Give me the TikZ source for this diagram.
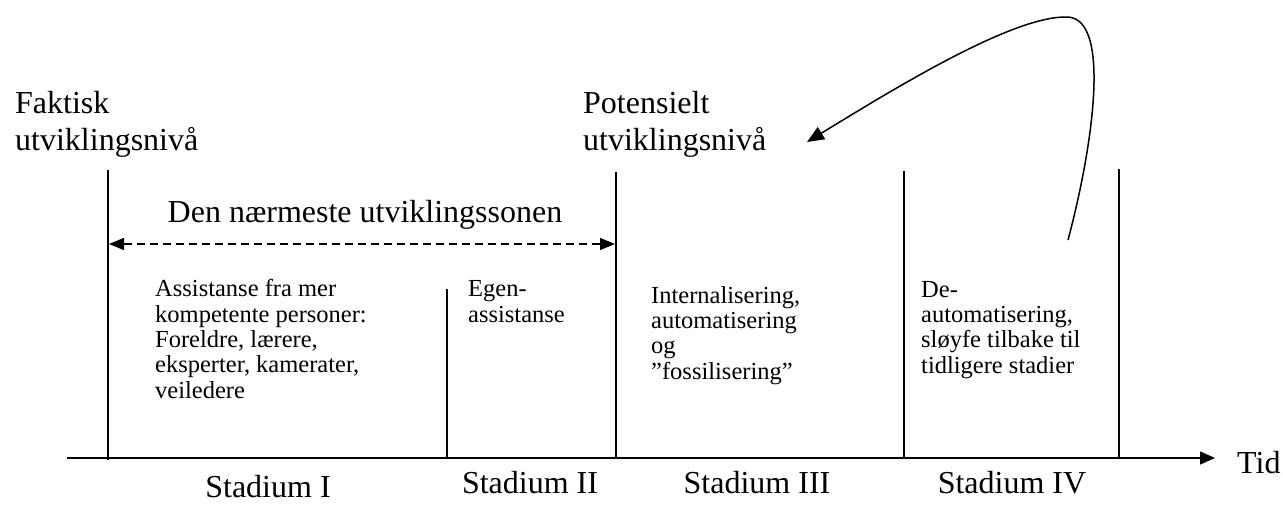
\documentclass[tikz,border=0pt]{standalone}
\usepackage{fontspec}
\setmainfont{Liberation Serif}
\usetikzlibrary{arrows.meta}

\begin{document}
\begin{tikzpicture}[x=1pt,y=-1pt,
  big/.style={font=\fontsize{32}{37}\selectfont, inner sep=0pt, align=left},
  small/.style={font=\fontsize{24.5}{25.3}\selectfont, inner sep=0pt, align=left},
  stage/.style={font=\fontsize{32}{37}\selectfont, inner sep=0pt, anchor=base},
  rule/.style={line width=1.5pt},
  tip/.style={-{Triangle[length=15pt,width=13pt]}}
]
\useasboundingbox (0,0) rectangle (1283,504);

% level labels (anchored at the baseline of their last line)
\node[big, anchor=base west] (faktisk) at (15,150) {Faktisk\\utviklingsnivå};
\node[big, anchor=base west] (potensielt) at (583,150) {Potensielt\\utviklingsnivå};

% zone of proximal development
\node[big, anchor=base] (sone) at (365,222) {Den nærmeste utviklingssonen};

% boundaries between the stages
\coordinate (v1t) at (108,170);  \coordinate (v1b) at (108,460);
\coordinate (v2t) at (447,289);  \coordinate (v2b) at (447,458);
\coordinate (v3t) at (616,172);  \coordinate (v3b) at (616,458);
\coordinate (v4t) at (904,171);  \coordinate (v4b) at (904,458);
\coordinate (v5t) at (1119,169); \coordinate (v5b) at (1119,458);
\foreach \v in {1,...,5} \draw[rule] (v\v t) -- (v\v b);

% time axis
\coordinate (axstart) at (67,458);
\coordinate (axend) at (1215,458);
\draw[rule, tip] (axstart) -- (axend);
\node[big, anchor=base west] (tid) at (1237,473) {Tid};

% span of the zone
\coordinate (zl) at (109,244);
\coordinate (zr) at (615,244);
\draw[line width=1.3pt, dash pattern=on 8pt off 5pt,
  {Triangle[length=15pt,width=12pt]}-{Triangle[length=15pt,width=12pt]}] (zl) -- (zr);

% stage descriptions (anchored at the baseline of their last line)
\node[small, anchor=base west] (s1) at (155,398) {Assistanse fra mer\\kompetente personer:\\Foreldre, lærere,\\eksperter, kamerater,\\veiledere};
\node[small, anchor=base west] (s2) at (468,322) {Egen-\\assistanse};
\node[small, anchor=base west] (s3) at (651,379) {Internalisering,\\automatisering\\og\\”fossilisering”};
\node[small, anchor=base west] (s4) at (921,373) {De-\\automatisering,\\sløyfe tilbake til\\tidligere stadier};

% stage names
\node[stage] (st1) at (268,497) {Stadium I};
\node[stage] (st2) at (530,493) {Stadium II};
\node[stage] (st3) at (757,493) {Stadium III};
\node[stage] (st4) at (1012,493) {Stadium IV};

% loop back to earlier stages
\coordinate (loopstart) at (1068,240);
\coordinate (looptop) at (1068,17);
\coordinate (loopend) at (807,142);
\draw[line width=1.5pt, -{Triangle[length=17pt,width=14pt]}]
  (loopstart) .. controls (1092,150) and (1112,20) .. (looptop)
  .. controls (1015,15) and (900,85) .. (loopend);
\end{tikzpicture}
\end{document}
